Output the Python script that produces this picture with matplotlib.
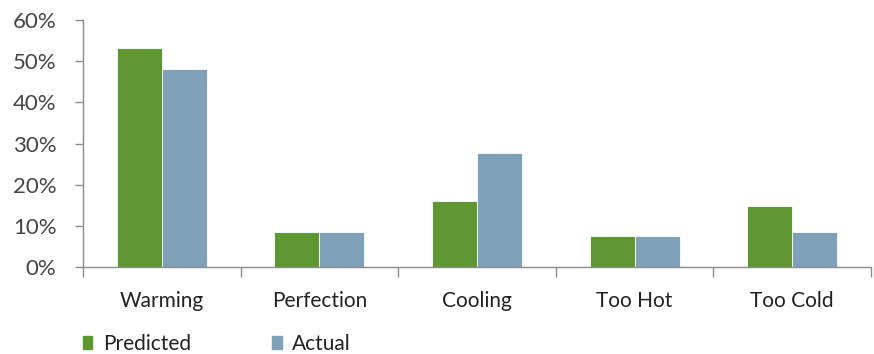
import matplotlib.pyplot as plt
import numpy as np
from matplotlib.patches import Patch
from matplotlib.ticker import FuncFormatter

categories = ['Warming', 'Perfection', 'Cooling', 'Too Hot', 'Too Cold']
predicted = [53.2, 8.4, 16.0, 7.5, 14.9]
actual = [48.0, 8.5, 27.7, 7.5, 8.5]

plt.rcParams['font.family'] = ['Lato', 'DejaVu Sans']

green = '#5e9732'
blue = '#7fa1b8'
axis_grey = '#8c8c8c'

fig = plt.figure(figsize=(8.74, 3.54), dpi=100)
ax = fig.add_axes([83 / 874, 1 - 267 / 354, (871 - 83) / 874, (267 - 20) / 354])

x = np.arange(len(categories))
w = 0.2857
ax.bar(x - w / 2, predicted, w, color=green, edgecolor='white', linewidth=0.6)
ax.bar(x + w / 2, actual, w, color=blue, edgecolor='white', linewidth=0.6)

ax.set_xlim(-0.5, len(categories) - 0.5)
ax.set_ylim(0, 60)
ax.set_yticks(range(0, 61, 10))
ax.yaxis.set_major_formatter(FuncFormatter(lambda v, p: f'{v:.0f}%'))

# category labels sit between the group tick marks
ax.set_xticks(np.arange(-0.5, len(categories), 1.0))
ax.set_xticklabels([])
ax.set_xticks(x, minor=True)
ax.set_xticklabels(categories, minor=True)
ax.tick_params(axis='x', which='major', length=7, direction='out', color=axis_grey, width=1)
ax.tick_params(axis='x', which='minor', length=0, pad=17, labelsize=15, labelcolor='#222222')
ax.tick_params(axis='y', length=6, direction='out', color=axis_grey, width=1,
               labelsize=16, labelcolor='#444444', pad=13)

for s in ['top', 'right']:
    ax.spines[s].set_visible(False)
for s in ['left', 'bottom']:
    ax.spines[s].set_color(axis_grey)
    ax.spines[s].set_linewidth(1)

handles = [Patch(color=green, label='Predicted'), Patch(color=blue, label='Actual')]
fig.legend(handles=handles, loc='center left', bbox_to_anchor=(83 / 874, 1 - 344 / 354), ncol=2,
           frameon=False, fontsize=15, handlelength=0.45, handleheight=0.55,
           handletextpad=0.5, columnspacing=3.9, labelcolor='#222222',
           borderpad=0, borderaxespad=0)

fig.savefig('out.png', dpi=100)
